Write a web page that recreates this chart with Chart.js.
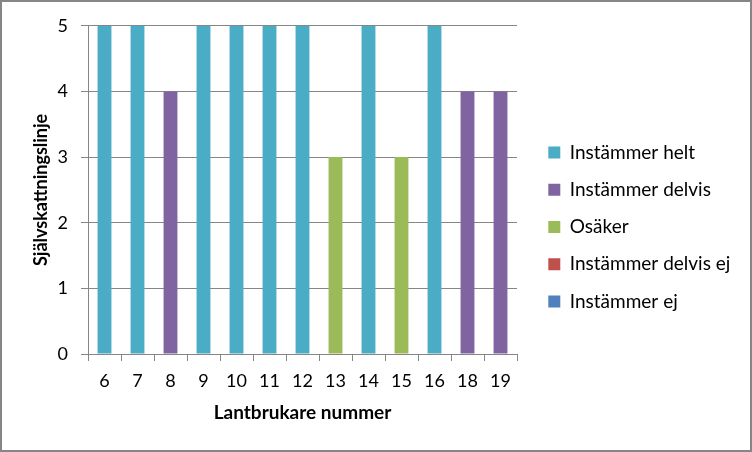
<!DOCTYPE html>
<html>
<head>
<meta charset="utf-8">
<script src="https://cdn.jsdelivr.net/npm/chart.js@4/dist/chart.umd.min.js"></script>
<style>
  html, body { margin: 0; padding: 0; background: #fff; }
  #wrap { width: 752px; height: 452px; box-sizing: border-box; border: 2px solid #868686; background: #fff; }
  #c { display: block; }
</style>
</head>
<body>
<div id="wrap"><canvas id="c" width="748" height="448"></canvas></div>
<script>
// Data
const categories = ['6', '7', '8', '9', '10', '11', '12', '13', '14', '15', '16', '18', '19'];
const seriesNames = ['Instämmer helt', 'Instämmer delvis', 'Osäker', 'Instämmer delvis ej', 'Instämmer ej'];
const instammerHelt      = [5, 5, null, 5, 5, 5, 5, null, 5, null, 5, null, null];
const instammerDelvis    = [null, null, 4, null, null, null, null, null, null, null, null, 4, 4];
const osaker             = [null, null, null, null, null, null, null, 3, null, 3, null, null, null];
const instammerDelvisEj  = [null, null, null, null, null, null, null, null, null, null, null, null, null];
const instammerEj        = [null, null, null, null, null, null, null, null, null, null, null, null, null];
const yTicks = [0, 1, 2, 3, 4, 5];
const xTitle = 'Lantbrukare nummer';
const yTitle = 'Självskattningslinje';

const colors = ['#4BACC6', '#8064A2', '#9BBB59', '#C0504D', '#4F81BD'];
const seriesValues = [instammerHelt, instammerDelvis, osaker, instammerDelvisEj, instammerEj];

const FONT = 'Lato';
const gridColor = '#868686';
// wanted plot-area box inside the canvas
const AREA = { left: 86, right: 515, bottom: 352 };

const cfg = {
  type: 'bar',
  data: {
    labels: categories,
    datasets: seriesValues.map((vals, i) => ({
      label: seriesNames[i],
      data: vals,
      backgroundColor: colors[i],
      borderColor: colors[i],
      borderWidth: 0,
      barPercentage: 0.42,
      categoryPercentage: 1.0,
      stack: 's'
    }))
  },
  options: {
    responsive: false,
    animation: false,
    devicePixelRatio: 1,
    layout: { padding: { left: 28, right: 30, top: 22, bottom: 26 } },
    plugins: {
      tooltip: { enabled: false },
      legend: {
        position: 'right',
        align: 'center',
        maxWidth: 1000,
        title: { display: true, text: '', font: { size: 5, lineHeight: 1.2 }, padding: 0 },
        labels: {
          boxWidth: 12,
          boxHeight: 12,
          padding: 18.3,
          color: '#000',
          font: { family: FONT, size: 19 }
        }
      }
    },
    scales: {
      x: {
        stacked: true,
        grid: { display: true, drawOnChartArea: false, drawTicks: true, tickLength: 7, color: gridColor, lineWidth: 1 },
        border: { display: true, color: gridColor, width: 1 },
        ticks: { color: '#000', padding: 9, font: { family: FONT, size: 18 }, maxRotation: 0, autoSkip: false },
        title: { display: true, text: xTitle, color: '#000', font: { family: FONT, size: 19, weight: 'bold' }, padding: { top: 11, bottom: 0 } }
      },
      y: {
        stacked: true,
        min: yTicks[0],
        max: yTicks[yTicks.length - 1],
        afterBuildTicks: (s) => { s.ticks = yTicks.map(v => ({ value: v })); },
        grid: { display: true, drawOnChartArea: true, drawTicks: true, tickLength: 7, color: gridColor, lineWidth: 1 },
        border: { display: true, color: gridColor, width: 1 },
        ticks: { color: '#000', padding: 13, font: { family: FONT, size: 18 } },
        title: { display: true, text: yTitle, color: '#000', font: { family: FONT, size: 18, weight: 'bold' }, padding: { top: 0, bottom: 7 } }
      },
      gap: {
        type: 'linear',
        position: 'right',
        display: true,
        min: 0, max: 1,
        grid: { display: false },
        border: { display: false },
        ticks: { display: false },
        afterFit: (s) => { s.width = 13; }
      }
    }
  }
};

const chart = new Chart(document.getElementById('c'), cfg);

// Fine-tune paddings so the plot area lands where the reference has it
for (let k = 0; k < 2; k++) {
  const ca = chart.chartArea;
  const o = chart.config.options;
  const yt = o.scales.y.title.padding;
  const xt = o.scales.x.title.padding;
  o.scales.y.title.padding = { top: yt.top, bottom: yt.bottom - (ca.left - AREA.left) };
  o.scales.x.title.padding = { top: xt.top + (ca.bottom - AREA.bottom), bottom: xt.bottom };
  const p = o.layout.padding;
  o.layout.padding = { left: p.left, right: p.right + (ca.right - AREA.right), top: p.top, bottom: p.bottom };
  chart.update();
}
</script>
</body>
</html>
